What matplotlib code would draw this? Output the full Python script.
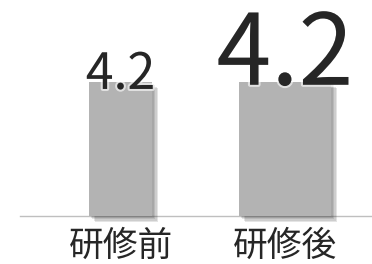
import matplotlib
matplotlib.use("Agg")
import matplotlib.pyplot as plt
import matplotlib.patheffects as pe

plt.rcParams['font.family'] = ['Noto Sans CJK JP', 'DejaVu Sans']

categories = ['研修前', '研修後']
values = [4.2, 4.2]
labels = ['4.2', '4.2']
bar_widths = [0.383, 0.559]
label_sizes = [36, 71]
label_offsets = [-5, -2]

fig = plt.figure(figsize=(3.72, 2.64), dpi=100)
ax = fig.add_axes([20/372, 48/264, 352/372, 216/264])
x = list(range(len(categories)))
bars = ax.bar(x, values, width=bar_widths, color='#b3b3b3', zorder=2)
shadow = [pe.SimplePatchShadow(offset=(d, -d), shadow_rgbFace='#333333', alpha=0.13)
          for d in (4.5, 3.5, 2.5, 1.5)]
for b in bars:
    b.set_clip_on(False)
    b.set_path_effects(shadow + [pe.Normal()])

for xi, v, lab, fs, off in zip(x, values, labels, label_sizes, label_offsets):
    ax.annotate(lab, (xi, v), xytext=(0, off), textcoords='offset points',
                ha='center', va='baseline', fontsize=fs, color='#262626', zorder=3,
                path_effects=[pe.withStroke(linewidth=3, foreground='white', alpha=0.6)])

ax.set_xlim(-0.611, 1.529)
ax.set_ylim(0, 4.2 * 216 / 134)
ax.set_xticks(x)
ax.set_xticklabels(categories, fontsize=25, color='#262626')
ax.tick_params(axis='x', length=0, pad=9)
ax.set_yticks([])
for s in ['top', 'right', 'left']:
    ax.spines[s].set_visible(False)
ax.spines['bottom'].set_color('#bfbfbf')
ax.spines['bottom'].set_linewidth(1)
ax.spines['bottom'].set_zorder(1)
ax.patch.set_alpha(0)

fig.savefig('out.png', dpi=100)
